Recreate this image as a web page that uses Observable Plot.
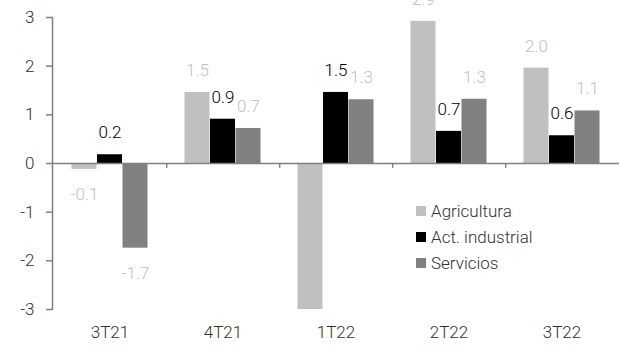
<!DOCTYPE html>
<html><head><meta charset="utf-8">
<script src="https://cdn.jsdelivr.net/npm/d3@7"></script>
<script src="https://cdn.jsdelivr.net/npm/@observablehq/plot@0.6"></script>
<style>
body{margin:0;background:#fff;}
#wrap{position:relative;width:619px;height:345px;font-family:Roboto,sans-serif;font-weight:300;}
#legend{position:absolute;left:416px;top:198px;font-size:17px;color:#333;line-height:26px;}
#legend .item{display:flex;align-items:center;height:26px;}
#legend .sw{width:10px;height:10px;margin-right:5px;}
</style></head><body><div id="wrap"></div>
<script>
const quarters = ["3T21","4T21","1T22","2T22","3T22"];
const seriesNames = ["Agricultura","Act. industrial","Servicios"];
const agricultura = [-0.12, 1.46, -3.1, 2.92, 1.96];
const industrial = [0.18, 0.91, 1.46, 0.66, 0.57];
const servicios = [-1.74, 0.72, 1.31, 1.32, 1.08];
const yTicks = [-3, -2, -1, 0, 1, 2, 3];
const barColors = ["#c0c0c0", "#000000", "#808080"];
const labelColors = ["#bfbfbf", "#000000", "#bfbfbf"];

const seriesValues = [agricultura, industrial, servicios];
const yDomain = [-3, 3];
const W = 619, H = 345, mL = 52, mR = 0, mT = 17, mB = 36;
const pInner = 0.775;
const step = (W - mL - mR) / quarters.length;
const bw = step * (1 - pInner);

const marks = [];
seriesValues.forEach((vals, i) => {
  const data = quarters.map((q, j) => ({quarter: q, value: vals[j]}));
  const dx = (i - 1) * bw;
  marks.push(Plot.barY(data, {x: "quarter", y: "value", fill: barColors[i], dx, clip: true}));
  const visible = data.filter(d => d.value >= yDomain[0] && d.value <= yDomain[1] + 0.5);
  marks.push(Plot.text(visible.filter(d => d.value >= 0), {x: "quarter", y: "value", text: d => d.value.toFixed(1), fill: labelColors[i], dx, dy: -22}));
  marks.push(Plot.text(visible.filter(d => d.value < 0), {x: "quarter", y: "value", text: d => d.value.toFixed(1), fill: labelColors[i], dx, dy: 25}));
});

const chart = Plot.plot({
  width: W, height: H,
  marginLeft: mL, marginRight: mR, marginTop: mT, marginBottom: mB,
  style: {fontFamily: "Roboto, sans-serif", fontSize: "17px", fontWeight: 300, background: "#fff"},
  x: {domain: quarters, paddingInner: pInner, paddingOuter: pInner / 2, axis: null},
  y: {domain: yDomain, axis: null},
  marks: [
    ...marks,
    Plot.ruleY([0], {stroke: "#808080", strokeWidth: 1.5}),
    Plot.ruleX(quarters.slice(0, -1), {x: d => d, y1: 0, y2: -0.1, dx: step / 2, stroke: "#808080", strokeWidth: 1.5}),
    Plot.frame({anchor: "left", stroke: "#808080", strokeWidth: 1.5}),
    Plot.axisY(yTicks, {tickSize: 6, tickPadding: 12, stroke: "#808080", strokeWidth: 1.5, fill: "#333", label: null, tickFormat: d => String(d)}),
    Plot.axisX(quarters, {tickSize: 0, tickPadding: 16, fill: "#333", label: null})
  ]
});

const wrap = document.getElementById("wrap");
wrap.appendChild(chart);
const legend = document.createElement("div");
legend.id = "legend";
seriesNames.forEach((name, i) => {
  const item = document.createElement("div");
  item.className = "item";
  const sw = document.createElement("span");
  sw.className = "sw";
  sw.style.background = barColors[i];
  item.appendChild(sw);
  item.appendChild(document.createTextNode(name));
  legend.appendChild(item);
});
wrap.appendChild(legend);
</script>
</body></html>
